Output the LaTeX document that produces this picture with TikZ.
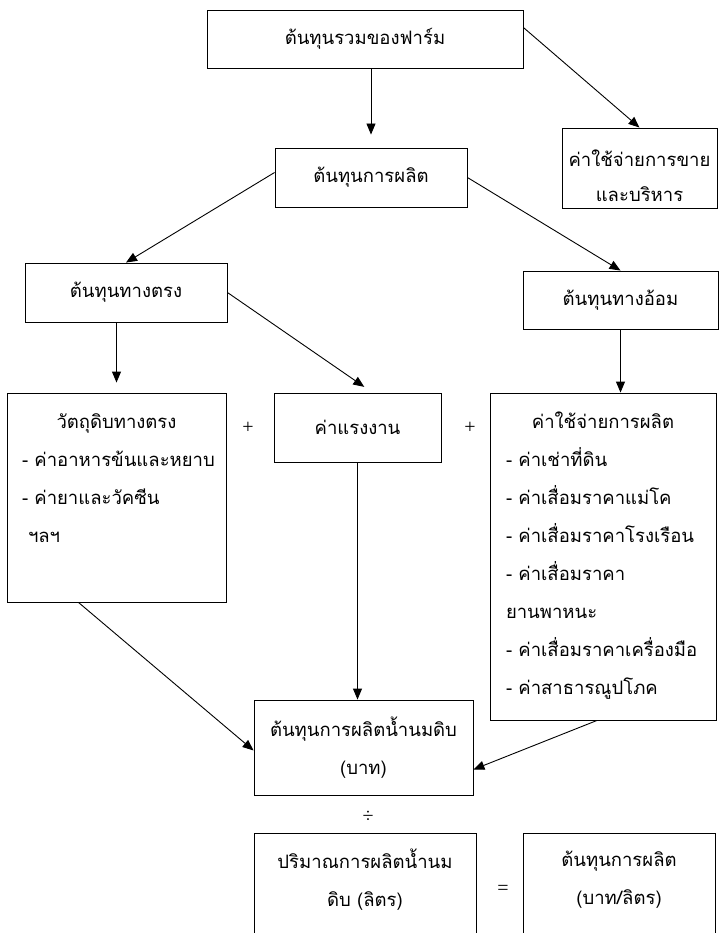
\documentclass[tikz,border=0pt]{standalone}
\usepackage{fontspec}
\setmainfont{Liberation Serif}
\newfontfamily\thaifont[Script=Thai]{Loma}
\usetikzlibrary{arrows.meta}
\tikzstyle{costBox}=[shape = rectangle, draw, line width = 0.9pt, align = center, inner sep = 0pt, font = \thaifont\fontsize{18.5}{38}\selectfont]
\tikzstyle{opSign}=[inner sep = 0pt, font = \fontsize{20}{20}\selectfont]
\tikzstyle{arr}=[-{Triangle[length = 11pt, width = 9pt]}, line width = 0.9pt]

\begin{document}
\begin{tikzpicture}[x = 1pt, y = -1pt]
\useasboundingbox (0,0) rectangle (719,933);
\node[costBox, minimum width = 316pt, minimum height = 58pt] (v0) at (365,39) {ต้นทุนรวมของฟาร์ม};
\node[costBox, minimum width = 155pt, minimum height = 80pt] (v1) at (639.5,168) {\mbox{}\\[-6pt]ค่าใช้จ่ายการขาย\\[-3pt]และบริหาร};
\node[costBox, minimum width = 192pt, minimum height = 59pt] (v2) at (371,177.5) {ต้นทุนการผลิต};
\node[costBox, minimum width = 202pt, minimum height = 59pt] (v3) at (126,292.5) {ต้นทุนทางตรง};
\node[costBox, minimum width = 195pt, minimum height = 58pt] (v4) at (620.5,300) {ต้นทุนทางอ้อม};
\node[costBox] (v5) at (116.5,497.5) {\parbox[c][209pt][t]{219pt}{\centering\rule{0pt}{35pt}วัตถุดิบทางตรง\par
  \raggedright\leftskip=15pt -~ค่าอาหารข้นและหยาบ\\-~ค่ายาและวัคซีน\\\hspace*{6pt}ฯลฯ\par}};
\node[costBox, minimum width = 167pt, minimum height = 69pt] (v6) at (357.5,427.5) {ค่าแรงงาน};
\node[costBox] (v7) at (603,556.5) {\parbox[c][327pt][t]{226pt}{\centering\rule{0pt}{35pt}ค่าใช้จ่ายการผลิต\par
  \raggedright\leftskip=16pt -~ค่าเช่าที่ดิน\\-~ค่าเสื่อมราคาแม่โค\\-~ค่าเสื่อมราคาโรงเรือน\\-~ค่าเสื่อมราคา\\ยานพาหนะ\\-~ค่าเสื่อมราคาเครื่องมือ\\-~ค่าสาธารณูปโภค\par}};
\node[costBox, minimum width = 219pt, minimum height = 95pt] (v8) at (363.5,747.5) {ต้นทุนการผลิตน้ำนมดิบ\\(บาท)};
\node[costBox, minimum width = 222pt, minimum height = 128pt] (v9) at (365,897) {ปริมาณการผลิตน้ำนม\\ดิบ (ลิตร)\\\mbox{}};
\node[costBox, minimum width = 192pt, minimum height = 128pt] (v10) at (619,897) {ต้นทุนการผลิต\\(บาท/ลิตร)\\\mbox{}};
\node[opSign] (s0) at (248,428) {+};
\node[opSign] (s1) at (470,428) {+};
\node[opSign] (s2) at (368,817) {÷};
\node[opSign] (s3) at (503,890) {=};
\draw[arr, shorten >= 13pt] (v0.south -| v2.north) -- (v2.north);
\draw[arr] ([yshift = -18pt]v0.north east) -- (v1.north);
\draw[arr] ([yshift = 5pt]v2.west) -- (v3.north);
\draw[arr] (v2.east) -- (v4.north);
\draw[arr, shorten >= 10pt] (v3.east) -- ([xshift = 15pt]v6.north);
\draw[arr, shorten >= 10pt] (v5.north |- v3.south) -- (v5.north);
\draw[arr] (v4.south) -- (v4.south |- v7.north);
\draw[arr] ([xshift = -38pt]v5.south) -- ([yshift = -3pt]v8.west);
\draw[arr] (v6.south) -- (v6.south |- v8.north);
\draw[arr] ([xshift = -6pt]v7.south) -- ([yshift = -22pt]v8.east);
\end{tikzpicture}
\end{document}
